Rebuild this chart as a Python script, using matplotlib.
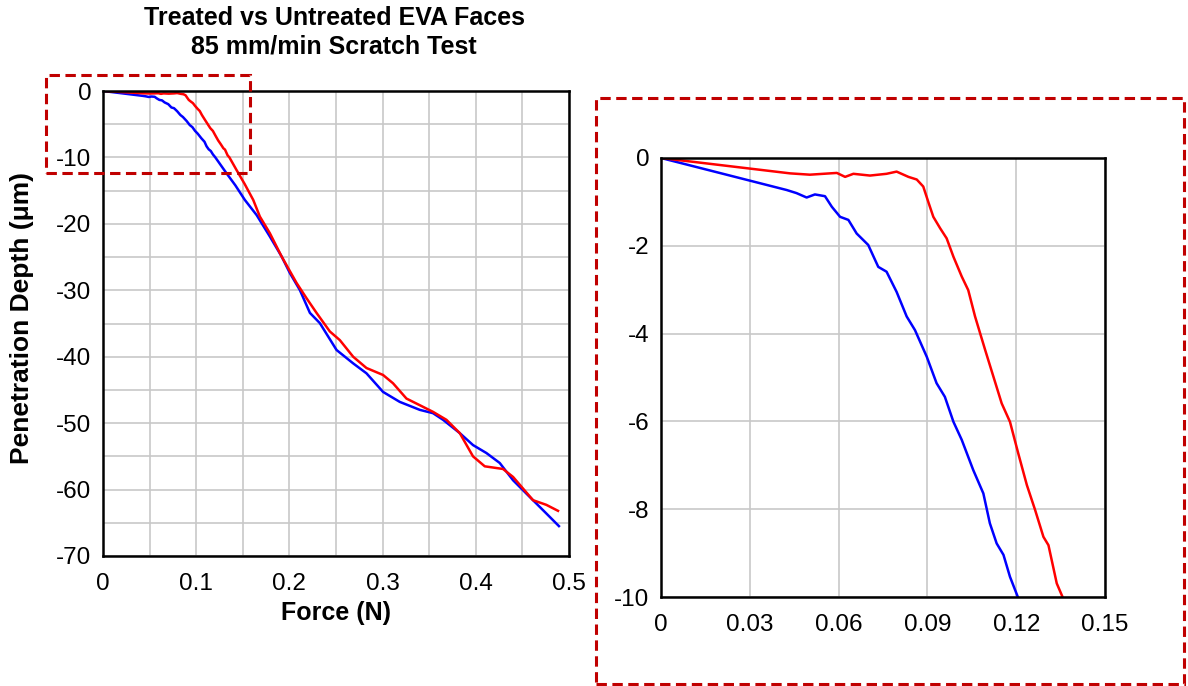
import matplotlib
matplotlib.use("Agg")
import matplotlib.pyplot as plt
from matplotlib.patches import Rectangle
from matplotlib.ticker import MultipleLocator, FuncFormatter

plt.rcParams['font.family'] = ['Liberation Sans', 'DejaVu Sans']

# Untreated face (blue): force in N, penetration depth in um
untreated_force = [0.0, 0.0425, 0.0458, 0.0492, 0.052, 0.0554, 0.0577, 0.0605, 0.0633,
                   0.0661, 0.0700, 0.0734, 0.0762, 0.0796, 0.0830, 0.0858, 0.0898, 0.0931,
                   0.0959, 0.0988, 0.1016, 0.1055, 0.1089, 0.1111, 0.1134, 0.1157, 0.1179,
                   0.1205, 0.1326, 0.1420, 0.1522, 0.1648, 0.179, 0.1916, 0.2005, 0.2112,
                   0.222, 0.2327, 0.2506, 0.2684, 0.2827, 0.3005, 0.3184, 0.3399, 0.3541,
                   0.3649, 0.3828, 0.397, 0.4114, 0.4257, 0.44, 0.4578, 0.4757, 0.4892]
untreated_depth = [0.0, -0.73, -0.80, -0.90, -0.83, -0.87, -1.11, -1.34, -1.41,
                   -1.72, -1.98, -2.48, -2.59, -3.05, -3.61, -3.92, -4.53, -5.13,
                   -5.44, -6.01, -6.42, -7.11, -7.64, -8.32, -8.78, -9.04, -9.54,
                   -9.99, -12.4, -14.2, -16.4, -18.67, -21.9, -24.9, -27.4, -29.96,
                   -33.4, -34.95, -38.99, -41.0, -42.5, -45.3, -46.8, -48.0, -48.5,
                   -49.5, -51.5, -53.3, -54.5, -56.0, -58.6, -61.1, -63.6, -65.5]

# Treated face (red)
treated_force = [0.0, 0.0436, 0.0503, 0.0594, 0.0622, 0.065, 0.0706, 0.0762, 0.0796,
                 0.0836, 0.0864, 0.0886, 0.0903, 0.092, 0.0943, 0.0965, 0.0988, 0.1016,
                 0.1038, 0.1061, 0.1095, 0.1123, 0.1151, 0.1179, 0.1207, 0.1236, 0.1264,
                 0.1292, 0.1309, 0.1337, 0.1356, 0.1433, 0.152, 0.1612, 0.1683, 0.179,
                 0.1916, 0.2077, 0.2184, 0.2291, 0.2434, 0.2541, 0.2684, 0.2827, 0.3005,
                 0.3112, 0.3256, 0.3399, 0.3541, 0.3685, 0.3828, 0.397, 0.4096, 0.4292,
                 0.44, 0.4614, 0.4757, 0.4882]
treated_depth = [0.0, -0.35, -0.38, -0.34, -0.43, -0.36, -0.40, -0.36, -0.31,
                 -0.43, -0.49, -0.65, -1.0, -1.34, -1.60, -1.83, -2.25, -2.70,
                 -3.01, -3.61, -4.37, -4.98, -5.59, -6.01, -6.73, -7.45, -8.02,
                 -8.63, -8.82, -9.69, -9.99, -11.9, -14.0, -16.4, -18.9, -21.4,
                 -24.9, -28.9, -31.2, -33.4, -36.2, -37.5, -40.0, -41.7, -42.75,
                 -44.0, -46.3, -47.3, -48.3, -49.5, -51.5, -55.0, -56.5, -56.9,
                 -58.1, -61.6, -62.3, -63.2]

title_lines = ["Treated vs Untreated EVA Faces", "85 mm/min Scratch Test"]
x_label = "Force (N)"
y_label = "Penetration Depth (\u03bcm)"

W, H = 1188, 686
fig = plt.figure(figsize=(W / 100, H / 100), dpi=100)


def frac(l, t, r, b):
    return [l / W, 1 - b / H, (r - l) / W, (b - t) / H]


grid_kw = dict(color="#c8c8c8", linewidth=1.2)
tick_fs = 17.5
label_fs = 18


def style(ax):
    for s in ax.spines.values():
        s.set_linewidth(1.8)
        s.set_color("black")
        s.set_zorder(5)
    ax.tick_params(which="both", length=0, labelsize=tick_fs)
    ax.tick_params(axis="x", pad=12)
    ax.tick_params(axis="y", pad=8.5)
    ax.grid(True, which="both", **grid_kw)
    ax.set_axisbelow(True)
    ax.yaxis.set_major_formatter(FuncFormatter(lambda v, p: f"{v:g}"))


# Main plot
ax = fig.add_axes(frac(103, 91, 569, 556))
ax.plot(untreated_force, untreated_depth, color="#0000ff", lw=1.8)
ax.plot(treated_force, treated_depth, color="#ff0000", lw=1.8)
ax.set_xlim(0, 0.5)
ax.set_ylim(-70, 0)
ax.xaxis.set_major_locator(MultipleLocator(0.1))
ax.xaxis.set_minor_locator(MultipleLocator(0.05))
ax.yaxis.set_major_locator(MultipleLocator(10))
ax.yaxis.set_minor_locator(MultipleLocator(5))
ax.xaxis.set_major_formatter(FuncFormatter(lambda v, p: f"{v:g}"))
style(ax)

fig.text(336 / W, 1 - 620 / H, x_label, ha="center", va="baseline",
         fontsize=label_fs, fontweight="bold")
fig.text(22.5 / W, 1 - 317.5 / H, y_label, ha="center", va="center", rotation=90,
         fontsize=19, fontweight="bold")

fig.text(334 / W, 1 - 25 / H, title_lines[0], ha="center", va="baseline",
         fontsize=18, fontweight="bold")
fig.text(334 / W, 1 - 53.5 / H, title_lines[1], ha="center", va="baseline",
         fontsize=18, fontweight="bold")

# Zoomed view of the initial contact region
axi = fig.add_axes(frac(661, 158, 1105, 597))
axi.plot(untreated_force, untreated_depth, color="#0000ff", lw=1.8)
axi.plot(treated_force, treated_depth, color="#ff0000", lw=1.8)
axi.set_xlim(0, 0.15)
axi.set_ylim(-10, 0)
axi.xaxis.set_major_locator(MultipleLocator(0.03))
axi.yaxis.set_major_locator(MultipleLocator(2))
axi.xaxis.set_major_formatter(FuncFormatter(lambda v, p: "0" if abs(v) < 1e-9 else f"{v:.2f}"))
style(axi)

# Dashed frames marking the zoom region and the zoomed view
dash_kw = dict(fill=False, edgecolor="#c00000", linewidth=2.2, linestyle=(0, (3.4, 1.8)),
               transform=fig.transFigure, figure=fig)
fig.patches.append(Rectangle((46 / W, 1 - 173 / H), (250 - 46) / W, (173 - 75) / H, **dash_kw))
fig.patches.append(Rectangle((596 / W, 1 - 684 / H), (1184 - 596) / W, (684 - 98) / H, **dash_kw))

fig.savefig("out.png", dpi=100)
